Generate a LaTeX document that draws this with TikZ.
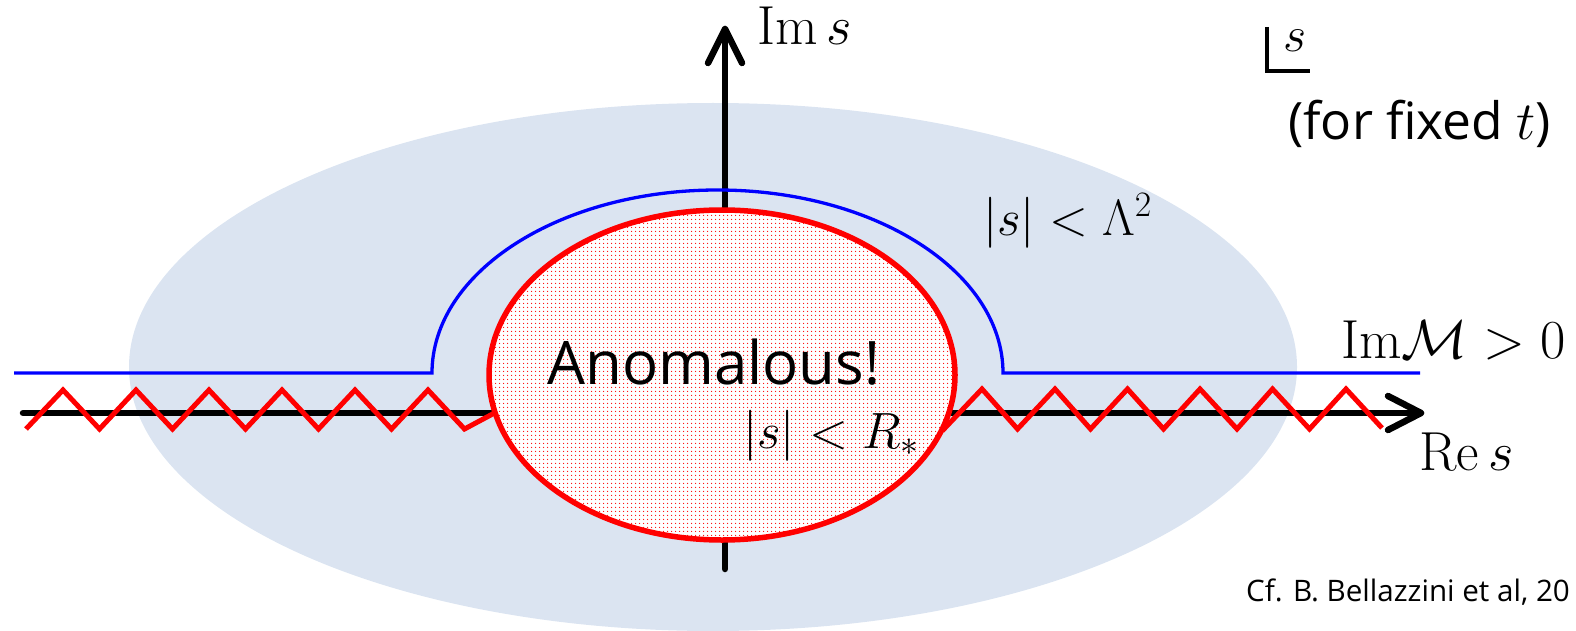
\RequirePackage{fix-cm}
\documentclass[tikz,border=0pt]{standalone}
\usepackage{fontspec}
\newfontfamily\osans{Open Sans}
\usetikzlibrary{patterns.meta}
\definecolor{bgblue}{RGB}{219,228,241}
\definecolor{pblue}{RGB}{0,0,255}
\definecolor{pred}{RGB}{255,0,0}
\tikzset{
  axisline/.style={line width=6.5pt, black, line cap=round, line join=round},
  cutline/.style={line width=5pt, pred, line join=miter},
  bluecut/.style={line width=3.3pt, pblue},
  mathlabel/.style={inner sep=0pt, anchor=base west, font=\fontsize{51}{60}\selectfont},
  biglabel/.style={inner sep=0pt, anchor=base west, font=\fontsize{55}{65}\selectfont},
  sanslabel/.style={inner sep=0pt, anchor=base west},
}
\begin{document}
\begin{tikzpicture}[x=1pt, y=-1pt]
\useasboundingbox (0,0) rectangle (1576,631);
% background region
\fill[bgblue] (713,367) ellipse [x radius=584, y radius=264];
% real axis
\coordinate (reL) at (23,413);
\coordinate (reT) at (1421,413);
\draw[axisline] (reL) -- (reT);
\draw[axisline] (1388,396) -- (reT) -- (1388,430);
% imaginary axis
\coordinate (imB) at (725,569);
\coordinate (imT) at (725,29);
\draw[axisline] (imB) -- (imT);
\draw[axisline] (708,63) -- (imT) -- (742,63);
% branch cuts (zigzags)
\draw[cutline] (26,429) -- (63,390) -- (99.5,429) -- (136,390) -- (172.5,429) -- (209,390)
  -- (245.5,429) -- (282,390) -- (318.5,429) -- (355,390) -- (391.5,429) -- (428,390)
  -- (464.5,429) -- (537.5,390);
\draw[cutline] (909,390) -- (944,429) -- (982,389) -- (1017.5,429) -- (1055,389) -- (1090.5,429)
  -- (1127.5,389) -- (1163.5,429) -- (1200,389) -- (1237,429) -- (1272.5,389) -- (1309.5,429)
  -- (1346,389) -- (1382,428);
% blue contour
\coordinate (bL) at (14,373);
\coordinate (bR) at (1420,373);
\draw[bluecut] (bL) -- (432,373) arc[start angle=180, end angle=360, x radius=285.5, y radius=183] -- (bR);
% anomalous region
\draw[pred, line width=5.5pt, preaction={fill=white},
      pattern={Dots[distance=4pt, radius=0.8pt]}, pattern color=pred]
  (722,375) ellipse [x radius=233, y radius=165];
% labels
\node[biglabel] (ims) at (757,45) {$\mathrm{Im}\,s$};
\node[biglabel] (res) at (1419,470) {$\mathrm{Re}\,s$};
\node[biglabel] (imm) at (1341,358) {$\mathrm{Im}\mathcal{M}>0$};
\node[mathlabel] (lam) at (983,235) {$|s|<\Lambda^2$};
\node[mathlabel] (rst) at (743,448) {$|s|<R_*$};
\node[sanslabel, font=\osans\fontsize{60}{70}\selectfont] (anom) at (547,384) {Anomalous!};
\node[sanslabel, font=\osans\fontsize{51.5}{60}\selectfont] (fixed) at (1288,140) {(for fixed {\fontsize{54}{64}\selectfont$t$})};
\node[sanslabel, font=\osans\fontsize{29.6}{36}\selectfont] (cf) at (1246,601) {Cf. B. Bellazzini et al, 20};
% s-plane marker
\node[mathlabel, font=\fontsize{50}{60}\selectfont] (splane) at (1283,52) {$s$};
\draw[line width=3.2pt, black] (1267,27) -- (1267,71) -- (1310,71);
\end{tikzpicture}
\end{document}
